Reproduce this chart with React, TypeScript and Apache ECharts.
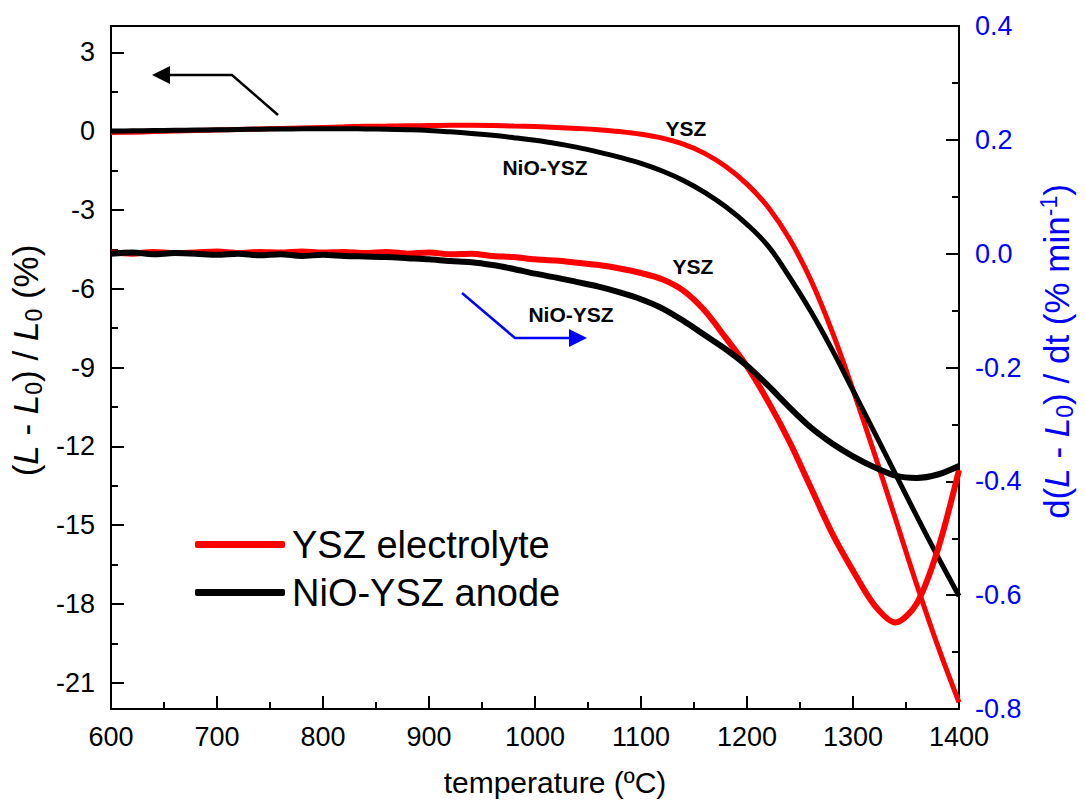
import React, { useEffect, useRef } from 'react';
import * as echarts from 'echarts';

const temps = [600, 620, 640, 660, 680, 700, 720, 740, 760, 780, 800, 820, 840, 860, 880, 900, 920, 940, 960, 980, 1000, 1020, 1040, 1060, 1080, 1100, 1120, 1140, 1160, 1180, 1200, 1220, 1240, 1260, 1280, 1300, 1320, 1340, 1360, 1380, 1400];

const yszShrink = [-0.05, -0.04, -0.02, 0.0, 0.02, 0.04, 0.06, 0.08, 0.1, 0.12, 0.14, 0.16, 0.18, 0.19, 0.2, 0.21, 0.22, 0.22, 0.21, 0.19, 0.17, 0.14, 0.1, 0.05, -0.02, -0.12, -0.27, -0.5, -0.85, -1.35, -2.02, -2.9, -4.1, -5.65, -7.6, -9.85, -12.25, -14.75, -17.25, -19.6, -21.75];

const nioShrink = [0.0, 0.01, 0.02, 0.03, 0.04, 0.05, 0.06, 0.07, 0.08, 0.085, 0.09, 0.09, 0.08, 0.07, 0.05, 0.02, -0.03, -0.09, -0.16, -0.25, -0.35, -0.47, -0.62, -0.8, -1.0, -1.23, -1.52, -1.88, -2.33, -2.88, -3.55, -4.38, -5.55, -6.85, -8.3, -9.87, -11.45, -13.05, -14.65, -16.2, -17.7];

const yszRate = [0.002, 0.0, 0.003, 0.001, 0.002, 0.004, 0.001, 0.003, 0.002, 0.004, 0.002, 0.003, 0.001, 0.003, 0.0, 0.002, -0.001, 0.0, -0.004, -0.006, -0.01, -0.012, -0.016, -0.02, -0.026, -0.034, -0.045, -0.065, -0.1, -0.148, -0.198, -0.26, -0.33, -0.41, -0.49, -0.557, -0.617, -0.648, -0.615, -0.52, -0.38];

const nioRate = [0.0, 0.002, -0.001, 0.001, 0.0, -0.002, 0.0, -0.003, -0.001, -0.004, -0.002, -0.004, -0.005, -0.006, -0.008, -0.01, -0.013, -0.015, -0.02, -0.027, -0.035, -0.042, -0.05, -0.058, -0.068, -0.08, -0.096, -0.118, -0.143, -0.168, -0.197, -0.232, -0.27, -0.305, -0.333, -0.356, -0.375, -0.39, -0.394, -0.388, -0.373];

const leftTicks = [3, 0, -3, -6, -9, -12, -15, -18, -21];
const leftMinorTicks = [1.5, -1.5, -4.5, -7.5, -10.5, -13.5, -16.5, -19.5];
const legendNames = ['YSZ electrolyte', 'NiO-YSZ anode'];

const FF = '"Liberation Sans", Arial, Helvetica, sans-serif';
const RED = '#ff0000';
const BLACK = '#000000';
const BLUE = '#0000ff';

const pairs = (vals: number[]) => temps.map((t, i) => [t, vals[i]]);

export default function App() {
  const ref = useRef<HTMLDivElement>(null);
  useEffect(() => {
    if (!ref.current) return;
    const chart = echarts.init(ref.current, null, { renderer: 'svg' });
    const NS = 35;
    const richBase = (color: string) => ({
      i: { fontStyle: 'italic', fontSize: NS, fontFamily: FF, color },
      sub: { fontSize: 23, fontFamily: FF, color, padding: [16, 0, 0, 0] },
      sup: { fontSize: 23, fontFamily: FF, color, padding: [0, 0, 16, 0] },
    });
    chart.setOption({
      animation: false,
      backgroundColor: '#ffffff',
      grid: {
        left: 111, right: 126, top: 26, bottom: 93,
        show: true, borderColor: '#000', borderWidth: 2,
        containLabel: false, outerBoundsMode: 'none',
      },
      legend: {
        data: legendNames,
        orient: 'vertical',
        left: 190,
        top: 519,
        icon: 'roundRect',
        itemWidth: 90,
        itemHeight: 7,
        itemGap: 7,
        textStyle: { fontSize: 38, fontFamily: FF, color: '#000', lineHeight: 41, padding: [0, 0, 0, 2] },
      },
      xAxis: {
        type: 'value', min: 600, max: 1400, interval: 100,
        name: 'temperature (ºC)', nameLocation: 'middle', nameGap: 58,
        nameTextStyle: { fontSize: 30, fontFamily: FF, color: '#000', padding: [0, 0, 0, 40] },
        axisLine: { onZero: false, lineStyle: { color: '#000', width: 2 } },
        axisTick: { inside: true, length: 13, lineStyle: { width: 2, color: '#000' } },
        minorTick: { show: true, splitNumber: 2, length: 7, lineStyle: { width: 2, color: '#000' } },
        axisLabel: { fontSize: 27, fontFamily: FF, color: '#000', margin: 14, formatter: (v: number) => String(v) },
        splitLine: { show: false },
      },
      yAxis: [
        {
          type: 'value', min: -22, max: 4, position: 'left',
          name: '({i|L} - {i|L}{sub|0}) / {i|L}{sub|0} (%)',
          nameLocation: 'middle', nameGap: 60, nameRotate: 90,
          nameTextStyle: { fontSize: NS, fontFamily: FF, color: '#000', rich: richBase('#000'), padding: [0, 0, 0, 14] },
          axisLine: { show: true, onZero: false, lineStyle: { color: '#000', width: 2 } },
          axisTick: { inside: true, length: 13, customValues: leftTicks, lineStyle: { width: 2, color: '#000' } },
          axisLabel: { fontSize: 27, fontFamily: FF, color: '#000', margin: 16, customValues: leftTicks },
          splitLine: { show: false },
        },
        {
          type: 'value', min: -22, max: 4, position: 'left',
          axisLine: { show: false, onZero: false },
          axisTick: { show: true, inside: true, length: 7, customValues: leftMinorTicks, lineStyle: { width: 2, color: '#000' } },
          axisLabel: { show: false },
          splitLine: { show: false },
        },
        {
          type: 'value', min: -0.8, max: 0.4, interval: 0.2, position: 'right',
          name: 'd({i|L} - {i|L}{sub|0}) / dt (% min{sup|-1})',
          nameLocation: 'middle', nameGap: 78, nameRotate: 90,
          nameTextStyle: { fontSize: NS, fontFamily: FF, color: BLUE, rich: richBase(BLUE), padding: [0, 0, 0, 32] },
          axisLine: { show: true, onZero: false, lineStyle: { color: '#000', width: 2 } },
          axisTick: { inside: true, length: 13, lineStyle: { width: 2, color: '#000' } },
          minorTick: { show: true, splitNumber: 2, length: 7, lineStyle: { width: 2, color: '#000' } },
          axisLabel: { fontSize: 27, fontFamily: FF, color: BLUE, margin: 16, formatter: (v: number) => v.toFixed(1) },
          splitLine: { show: false },
        },
      ],
      series: [
        { name: legendNames[0], type: 'line', yAxisIndex: 0, data: pairs(yszShrink), symbol: 'none', smooth: 0.4, lineStyle: { color: RED, width: 5 }, itemStyle: { color: RED } },
        { name: legendNames[1], type: 'line', yAxisIndex: 0, data: pairs(nioShrink), symbol: 'none', smooth: 0.4, lineStyle: { color: BLACK, width: 5 }, itemStyle: { color: BLACK } },
        { name: legendNames[0], type: 'line', yAxisIndex: 2, data: pairs(yszRate), symbol: 'none', smooth: 0.3, lineStyle: { color: RED, width: 6 }, itemStyle: { color: RED } },
        { name: legendNames[1], type: 'line', yAxisIndex: 2, data: pairs(nioRate), symbol: 'none', smooth: 0.3, lineStyle: { color: BLACK, width: 6 }, itemStyle: { color: BLACK } },
      ],
      graphic: [
        { type: 'text', x: 686, y: 128, style: { text: 'YSZ', font: `bold 21px ${FF}`, fill: '#000', align: 'center', verticalAlign: 'middle' } },
        { type: 'text', x: 545, y: 167, style: { text: 'NiO-YSZ', font: `bold 21px ${FF}`, fill: '#000', align: 'center', verticalAlign: 'middle' } },
        { type: 'text', x: 693, y: 266, style: { text: 'YSZ', font: `bold 21px ${FF}`, fill: '#000', align: 'center', verticalAlign: 'middle' } },
        { type: 'text', x: 571, y: 314, style: { text: 'NiO-YSZ', font: `bold 21px ${FF}`, fill: '#000', align: 'center', verticalAlign: 'middle' } },
        { type: 'polyline', shape: { points: [[278, 115], [232, 75], [168, 75]] }, style: { stroke: '#000', lineWidth: 2.5, fill: null } },
        { type: 'polygon', shape: { points: [[152, 75], [170, 66], [170, 84]] }, style: { fill: '#000' } },
        { type: 'polyline', shape: { points: [[462, 293], [515, 338], [572, 338]] }, style: { stroke: BLUE, lineWidth: 2.5, fill: null } },
        { type: 'polygon', shape: { points: [[587, 338], [569, 329], [569, 347]] }, style: { fill: BLUE } },
      ],
    });
    return () => chart.dispose();
  }, []);
  return <div ref={ref} style={{ position: 'fixed', left: 0, top: 0, width: 1085, height: 802, background: '#fff' }} />;
}
